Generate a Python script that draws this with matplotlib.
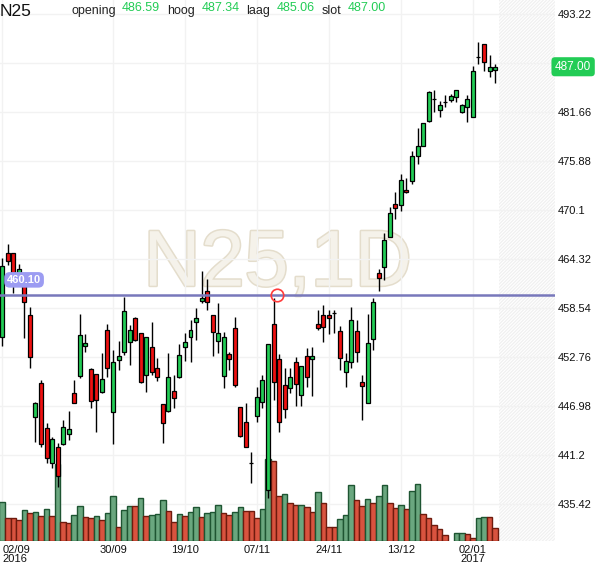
import numpy as np
import matplotlib
matplotlib.use("Agg")
import matplotlib.pyplot as plt
import matplotlib.patheffects as pe
import matplotlib.transforms as mtrans

plt.rcParams['font.family'] = ['Liberation Sans', 'DejaVu Sans']
plt.rcParams['hatch.linewidth'] = 0.9

# daily N25 candles, 02/09/2016 .. 06/01/2017
opens = [455.15, 465.09, 465.02, 461.52, 461.63, 457.71, 445.67, 449.68, 444.37, 440.32,
         442.13, 442.49, 443.67, 448.50, 450.54, 454.12, 451.33, 450.74, 448.62, 455.97,
         446.26, 452.43, 453.34, 454.52, 457.35, 455.58, 450.63, 454.00, 451.45, 447.21,
         446.45, 448.78, 450.46, 454.00, 455.18, 456.95, 459.43, 460.57, 457.74, 454.71,
         450.58, 453.10, 456.17, 446.85, 445.08, 440.32, 445.83, 447.51, 437.10, 456.64,
         452.51, 449.45, 449.09, 452.23, 448.24, 452.94, 452.51, 456.64, 457.74, 457.71,
         458.01, 455.85, 451.05, 452.16, 455.85, 449.87, 447.39, 454.87, 462.66, 463.37,
         466.98, 470.84, 470.64, 472.49, 473.47, 476.53, 477.71, 480.66, 483.19, 481.84,
         482.90, 483.02, 483.38, 481.61, 482.20, 481.13, 488.09, 489.68, 486.49, 486.59]
highs = [464.47, 466.12, 465.05, 463.76, 461.87, 458.72, 447.42, 450.07, 445.03, 443.38,
         442.64, 445.30, 446.42, 450.07, 457.86, 455.46, 451.52, 450.78, 453.22, 456.64,
         453.61, 454.67, 459.90, 456.56, 457.54, 455.62, 455.15, 456.91, 452.63, 447.24,
         453.22, 450.66, 454.28, 455.58, 457.15, 458.53, 462.93, 461.95, 457.74, 459.12,
         455.77, 453.34, 457.47, 446.89, 447.32, 441.61, 449.21, 450.66, 454.32, 459.71,
         453.14, 451.45, 451.45, 452.82, 451.72, 453.81, 454.00, 458.33, 458.92, 458.33,
         458.33, 456.44, 453.22, 458.72, 457.15, 450.60, 457.80, 459.71, 463.13, 467.38,
         470.45, 472.22, 474.34, 473.87, 477.12, 479.77, 480.39, 484.17, 484.28, 482.99,
         483.61, 483.81, 484.30, 482.63, 483.61, 487.12, 489.91, 489.71, 488.33, 487.34]
lows = [454.08, 463.64, 460.37, 461.28, 454.97, 451.45, 442.72, 442.13, 440.32, 439.73,
        437.45, 442.40, 442.99, 447.30, 450.34, 453.41, 446.73, 443.97, 448.50, 450.46,
        442.49, 451.25, 453.02, 451.84, 454.67, 449.68, 448.69, 450.66, 449.99, 442.60,
        446.33, 446.73, 450.27, 452.35, 452.23, 454.79, 459.19, 458.33, 452.90, 453.29,
        449.09, 451.25, 449.21, 443.31, 442.11, 437.96, 445.15, 446.73, 436.15, 447.71,
        443.97, 445.55, 448.50, 447.04, 447.04, 449.28, 448.22, 455.97, 454.59, 455.50,
        455.65, 451.25, 449.28, 451.45, 452.23, 445.35, 447.32, 453.61, 460.61, 461.87,
        466.91, 469.03, 469.93, 472.17, 473.16, 475.52, 477.68, 480.47, 481.61, 481.13,
        482.20, 482.79, 482.90, 481.54, 480.54, 481.06, 487.32, 486.44, 485.74, 485.06]
closes = [463.52, 464.11, 462.19, 463.17, 459.31, 452.75, 447.39, 442.52, 440.84, 443.08,
          438.75, 444.49, 444.26, 447.32, 455.35, 454.40, 447.63, 447.68, 450.16, 451.45,
          452.16, 452.90, 458.21, 455.97, 454.79, 449.80, 455.11, 451.05, 450.46, 445.03,
          450.39, 447.91, 452.99, 454.52, 455.97, 457.35, 459.71, 459.24, 455.70, 455.58,
          455.18, 452.51, 449.48, 443.50, 442.13, 440.32, 448.03, 450.07, 454.28, 449.87,
          445.15, 446.62, 450.46, 449.60, 451.67, 450.46, 452.90, 456.24, 456.29, 457.35,
          458.01, 452.63, 452.35, 457.15, 453.41, 449.40, 454.40, 459.31, 462.07, 466.59,
          469.81, 470.33, 473.67, 472.22, 476.50, 477.68, 480.36, 484.01, 483.19, 482.51,
          482.90, 483.58, 484.28, 482.51, 483.22, 486.44, 488.09, 487.55, 486.96, 487.00]

# volume (relative units) and bar colour: G = up, R = down, - = no bar
volume = [38.4, 22.4, 22.4, 20.4, 30.4, 27.4, 28.4, 24.4, 31.4, 24.4,
          76.7, 18.4, 17.4, 25.4, 34.4, 23.4, 22.4, 24.4, 20.4, 27.4,
          44.4, 13.4, 30.4, 34.4, 34.4, 42.4, 24.4, 25.4, 26.4, 40.4,
          29.4, 18.4, 26.4, 24.4, 28.4, 33.4, 23.4, 27.4, 28.4, 35.4,
          27.4, 25.4, 28.4, 33.4, 29.4, 29.4, 22.4, 31.4, 81.4, 80.0,
          44.4, 46.4, 37.4, 35.4, 35.4, 33.4, 28.4, 48.4, 37.4, 13.4,
          13.4, 21.4, 25.4, 55.4, 40.4, 34.4, 41.4, 37.4, 44.4, 55.4,
          37.4, 32.4, 35.4, 31.4, 49.4, 56.4, 26.4, 22.4, 15.4, 11.4,
          5.4, 0.0, 7.7, 7.7, 6.4, 2.4, 22.4, 23.4, 23.4, 12.4]
vol_dir = ("GRRRGRGRGR" "GRRGGRRGRG" "GRGGRGRGGG" "RRGRGGRGGG" "RRGGRRRGGR"
           "RGRRGRRGRR" "RGGGRRGRGG" "RRGRGGRRRR" "R-GGRRGGRR")

date_idx = [0, 20, 33, 46, 59, 72, 85]
date_labels = ['02/09\n2016', '30/09', '19/10', '07/11', '24/11', '13/12', '02/01\n2017']
price_ticks = [435.42, 441.2, 446.98, 452.76, 458.54, 464.32, 470.1, 475.88, 481.66, 487.44, 493.22]
price_labels = ['435.42', '441.2', '446.98', '452.76', '458.54', '464.32', '470.1',
                '475.88', '481.66', '', '493.22']
level = 460.10

W, H = 610, 568
fig = plt.figure(figsize=(W / 100, H / 100), dpi=100)
ax = fig.add_axes([0, (H - 540.7) / H, 555 / W, 540.7 / H])

o = np.array(opens)
c = np.array(closes)
hi = np.array(highs)
lo = np.array(lows)
x = np.arange(len(o))
n = len(x)

green = '#22cc55'
red = '#ee1111'

# future zone
ax.axvspan(n - 0.3, 99.82, facecolor='white', edgecolor='#f0f0f0', hatch='//////////', lw=0, zorder=0.3)

# watermark
ax.text(0.5, 463.6, 'N25,1D', transform=mtrans.blended_transform_factory(ax.transAxes, ax.transData),
        ha='center', va='center', fontsize=57, color='#f5f2ea', zorder=0.5,
        path_effects=[pe.withStroke(linewidth=2.2, foreground='#e4ddcc')])

# volume bars on the bottom 15% of the axes
vol = np.array(volume)
vol_frac = vol / vol.max() * 0.1506
vtr = ax.get_xaxis_transform()
for i in range(n):
    if vol_dir[i] == '-':
        continue
    fc, ec = ('#6aa77f', '#1e5532') if vol_dir[i] == 'G' else ('#d9533f', '#6e1b0e')
    ax.bar(x[i], vol_frac[i], width=1.0, bottom=0, color=fc, edgecolor=ec, lw=1.0,
           transform=vtr, zorder=1)

# candles
ax.vlines(x, lo, hi, color='black', lw=1.0, zorder=3)
cols = [green if cc >= oo else red for oo, cc in zip(o, c)]
ax.bar(x, np.abs(c - o), bottom=np.minimum(o, c), width=0.72, color=cols,
       edgecolor='black', lw=0.9, zorder=4)

# horizontal level + touch marker
ax.axhline(level, color='#7878bb', lw=1.8, zorder=5)
ax.plot(49.6, level, 'o', ms=9, mfc='none', mec='#ff3b3b', mew=1.2, zorder=6)
ax.annotate(f'{level:.2f}', xy=(0, level), xycoords=('axes fraction', 'data'),
            xytext=(7, 15), textcoords='offset pixels', ha='left', va='center',
            fontsize=8, color='white', fontweight='bold', zorder=7,
            bbox=dict(boxstyle='round,pad=0.25,rounding_size=0.5', fc='#9c9cf2', ec='none'))

ax.set_xlim(-0.4, 99.82)
ax.set_ylim(431.11, 494.87)

ax.set_yticks(price_ticks)
ax.set_yticklabels(price_labels)
ax.yaxis.tick_right()
ax.tick_params(axis='y', length=0, pad=2, labelsize=8, labelcolor='#111111')
ax.set_xticks(date_idx)
ax.set_xticklabels(date_labels, linespacing=0.95)
ax.tick_params(axis='x', length=0, pad=3, labelsize=8, labelcolor='#111111')
ax.get_xticklabels()[0].set_ha('left')
ax.get_xticklabels()[0].set_x(-0.4)
ax.grid(color='#f2f2f2', lw=1.0)
ax.set_axisbelow(True)
for s in ax.spines.values():
    s.set_visible(False)

# last price badge
ax.text(1.0, closes[-1], f'{closes[-1]:.2f}', transform=mtrans.blended_transform_factory(ax.transAxes, ax.transData),
        ha='left', va='center', fontsize=8.5, color='white', zorder=8, clip_on=False,
        bbox=dict(boxstyle='round,pad=0.3,rounding_size=0.3', fc='#22cc55', ec='none'))

# header
def px(xp, yp):
    return xp / W, 1 - yp / H

fig.text(*px(0, 12), 'N25', fontsize=12.5, va='center', ha='left', color='#111111')
hdr = [('opening', opens[-1], 71, 122), ('hoog', highs[-1], 167, 202),
       ('laag', lows[-1], 246, 277), ('slot', closes[-1], 322, 348)]
for name, val, xl, xv in hdr:
    fig.text(*px(xl, 11), name, fontsize=9, va='center', ha='left', color='#222222')
    fig.text(*px(xv, 8), f'{val:.2f}', fontsize=9, va='center', ha='left', color='#22cc55')

fig.savefig('out.png', dpi=100)
